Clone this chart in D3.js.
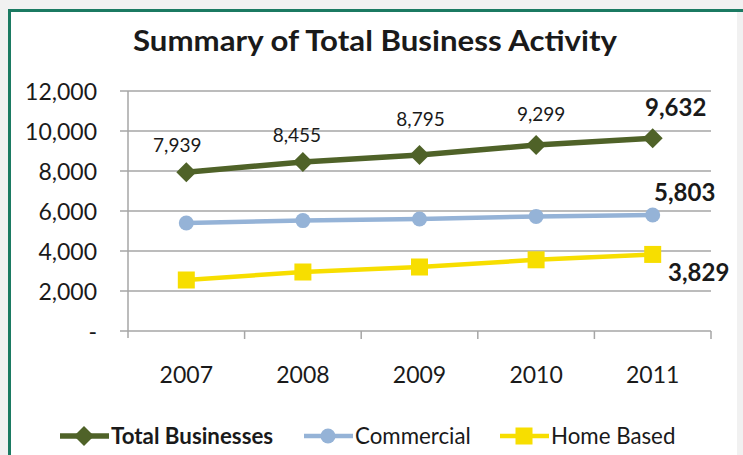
<!DOCTYPE html>
<html><head><meta charset="utf-8">
<script src="https://cdn.jsdelivr.net/npm/d3@7"></script>
<style>
html,body{margin:0;padding:0;background:#f1f1f1;}
svg{display:block;font-family:Lato,"Open Sans",sans-serif;}
</style></head>
<body><svg id="c" width="743" height="455"></svg>
<script>
const years = ["2007","2008","2009","2010","2011"];
const totalBusinesses = [7939, 8455, 8795, 9299, 9632];
const commercial = [5400, 5520, 5600, 5730, 5803];
const homeBased = [2550, 2950, 3200, 3560, 3829];
const yTicks = [0, 2000, 4000, 6000, 8000, 10000, 12000];
const seriesNames = ["Total Businesses", "Commercial", "Home Based"];

const svg = d3.select("#c");
// frame
svg.append("rect").attr("x",10).attr("y",12).attr("width",727).attr("height",443).attr("fill","#fff");
svg.append("line").attr("x1",9).attr("x2",743).attr("y1",10.5).attr("y2",10.5).attr("stroke","#1b7a62").attr("stroke-width",3);
svg.append("line").attr("x1",9.5).attr("x2",9.5).attr("y1",9).attr("y2",455).attr("stroke","#1b7a62").attr("stroke-width",3);

const x0 = 128, x1 = 711, yTop = 91, yBot = 331;
const x = d3.scaleBand().domain(years).range([x0, x1]);
const y = d3.scaleLinear().domain([0, 12000]).range([yBot, yTop]);

svg.append("text").attr("x",375).attr("y",51).attr("text-anchor","middle")
  .attr("font-weight","bold").attr("font-size",28).attr("fill","#1a1a1a")
  .attr("textLength",484).attr("lengthAdjust","spacingAndGlyphs")
  .text("Summary of Total Business Activity");

// gridlines
svg.append("g").selectAll("line").data(yTicks).join("line")
  .attr("x1",120).attr("x2",x1).attr("y1",d=>y(d)).attr("y2",d=>y(d))
  .attr("stroke","#a6a6a6").attr("stroke-width",1.5);
// y axis
const yAxis = d3.axisLeft(y).tickValues(yTicks).tickSize(0).tickPadding(0)
  .tickFormat(d => d === 0 ? "-" : d3.format(",")(d));
const gy = svg.append("g").attr("transform",`translate(${x0},0)`).call(yAxis);
gy.select(".domain").attr("stroke","#a6a6a6").attr("stroke-width",1.5).attr("d",`M0,${yTop}V${yBot+7}`);
gy.selectAll("text").attr("x",-31).attr("dy","0.35em").attr("font-size",23).attr("fill","#1a1a1a").attr("font-family","Lato");
// x axis
const xAxis = d3.axisBottom(x).tickSize(0).tickPadding(0);
const gx = svg.append("g").attr("transform",`translate(0,${yBot})`).call(xAxis);
gx.select(".domain").remove();
gx.selectAll("text").attr("y",52).attr("dy",0).attr("font-size",23).attr("fill","#1a1a1a").attr("font-family","Lato");
const bounds = years.map(d => x(d)).concat([x1]);
svg.append("g").selectAll("line").data(bounds.slice(1)).join("line")
  .attr("x1",d=>d).attr("x2",d=>d).attr("y1",yBot).attr("y2",yBot+8)
  .attr("stroke","#a6a6a6").attr("stroke-width",1.5);

const cx = d => x(d) + x.bandwidth()/2;
const series = [
  {name: seriesNames[0], values: totalBusinesses, color:"#4f6228", width:5.5, marker:"diamond"},
  {name: seriesNames[1], values: commercial, color:"#95b3d7", width:4.5, marker:"circle"},
  {name: seriesNames[2], values: homeBased, color:"#f7de00", width:4.5, marker:"square"}
];
const line = d3.line().x((v,i)=>cx(years[i])).y(v=>y(v));
function marker(g, type, color){
  if(type==="diamond") g.append("path").attr("d","M0,-10L10,0L0,10L-10,0Z").attr("fill",color);
  else if(type==="circle") g.append("circle").attr("r",7.5).attr("fill",color);
  else g.append("rect").attr("x",-8.5).attr("y",-8.5).attr("width",17).attr("height",17).attr("fill",color);
}
[...series].reverse().forEach(s=>{
  svg.append("path").attr("d",line(s.values)).attr("fill","none").attr("stroke",s.color).attr("stroke-width",s.width);
  s.values.forEach((v,i)=>{
    const g = svg.append("g").attr("transform",`translate(${cx(years[i])},${y(v)})`);
    marker(g, s.marker, s.color);
  });
});

// data labels (offsets relative to point)
const totalLabelOffsets = [[-9,-20],[-6,-20],[1,-29],[5,-24],[23,-22]];
const fmt = d3.format(",");
totalBusinesses.forEach((v,i)=>{
  const last = i === totalBusinesses.length-1;
  svg.append("text").attr("x",cx(years[i])+totalLabelOffsets[i][0]).attr("y",y(v)+totalLabelOffsets[i][1])
    .attr("text-anchor","middle").attr("font-size",last?24:19).attr("font-weight",last?"bold":"normal")
    .attr("fill","#1a1a1a").text(fmt(v));
});
const li = years.length-1;
svg.append("text").attr("x",cx(years[li])+32).attr("y",y(commercial[li])-14)
  .attr("text-anchor","middle").attr("font-size",24).attr("font-weight","bold").attr("fill","#1a1a1a").text(fmt(commercial[li]));
svg.append("text").attr("x",cx(years[li])+46).attr("y",y(homeBased[li])+27)
  .attr("text-anchor","middle").attr("font-size",24).attr("font-weight","bold").attr("fill","#1a1a1a").text(fmt(homeBased[li]));

// legend
const legendX = [60, 304, 500];
series.forEach((s,i)=>{
  const g = svg.append("g").attr("transform",`translate(${legendX[i]},436)`);
  g.append("line").attr("x1",0).attr("x2",49).attr("stroke",s.color).attr("stroke-width",s.width);
  const m = g.append("g").attr("transform","translate(24,0)");
  marker(m, s.marker, s.color);
  g.append("text").attr("x",51).attr("y",7.5).attr("font-size",22.3).attr("font-weight",i===0?"bold":"normal")
    .attr("fill","#1a1a1a").text(s.name);
});
</script></body></html>
